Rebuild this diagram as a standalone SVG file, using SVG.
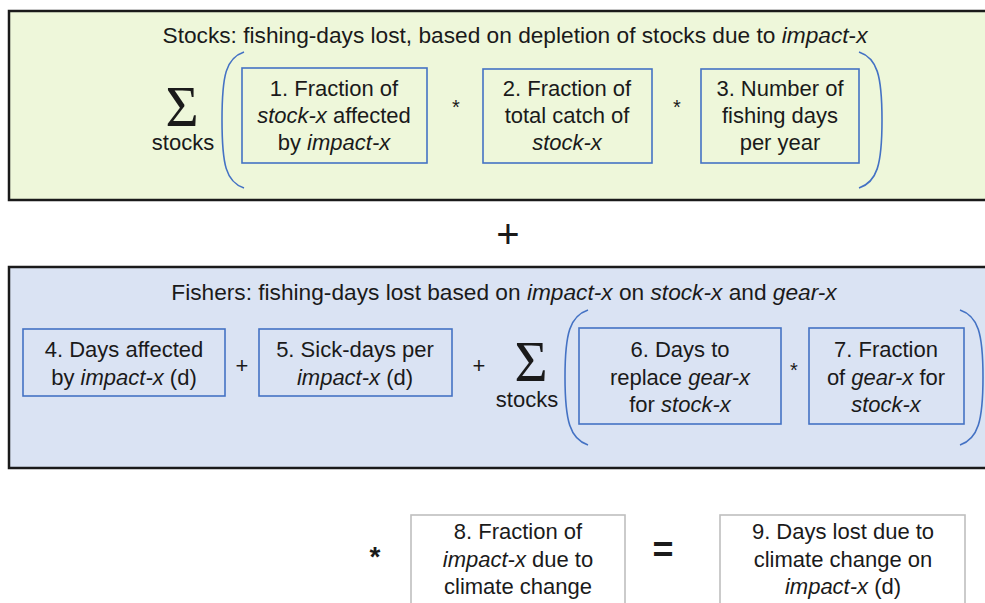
<svg xmlns="http://www.w3.org/2000/svg" width="985" height="603" viewBox="0 0 985 603">
<style>
text{font-family:"Liberation Sans",Arial,sans-serif;font-size:22px;fill:#1a1a1a;text-anchor:middle}
.ttl{font-size:22.7px}
.i{font-style:italic}
.frame{stroke:#1a1a1a;stroke-width:2.5}
.node{stroke:#4472c4;stroke-width:1.6}
.gnode{fill:#fff;stroke:#bfbfbf;stroke-width:1.6}
.br{fill:none;stroke:#4472c4;stroke-width:1.6}
.sig{font-family:"Liberation Serif","Times New Roman",serif;font-size:57px}
.sm{font-size:20px}
</style>
<rect width="985" height="603" fill="#fff"/>
<g id="stocks-panel">
<rect class="frame" x="9" y="11" width="990" height="189" fill="#eef7da"/>
<text class="ttl" x="515" y="43">Stocks: fishing-days lost, based on depletion of stocks due to <tspan class="i">impact</tspan>-<tspan class="i">x</tspan></text>
<text class="sig" x="182" y="126">Σ</text>
<text x="183" y="150">stocks</text>
<text class="sm" x="456" y="114">*</text>
<text class="sm" x="677" y="114">*</text>
</g>
<g id="fishers-panel">
<rect class="frame" x="9" y="267" width="990" height="201" fill="#dae3f3"/>
<text class="ttl" x="504" y="300">Fishers: fishing-days lost based on <tspan class="i">impact-x</tspan> on <tspan class="i">stock-x</tspan> and <tspan class="i">gear-x</tspan></text>
<text x="242" y="373">+</text>
<text x="479" y="373">+</text>
<text class="sig" x="531" y="381">Σ</text>
<text x="527" y="407">stocks</text>
<text class="sm" x="794" y="377">*</text>
</g>
<g id="n1">
<rect class="node" x="242" y="68" width="185" height="95" fill="#eef7da"/>
<text x="334" y="96">1. Fraction of</text>
<text x="334" y="123"><tspan class="i">stock-x</tspan> affected</text>
<text x="334" y="150">by <tspan class="i">impact-x</tspan></text>
</g>
<g id="n2">
<rect class="node" x="483" y="69" width="169" height="94" fill="#eef7da"/>
<text x="567" y="96">2. Fraction of</text>
<text x="567" y="123">total catch of</text>
<text x="567" y="150" class="i">stock-x</text>
</g>
<g id="n3">
<rect class="node" x="701" y="69" width="158" height="94" fill="#eef7da"/>
<text x="780" y="96">3. Number of</text>
<text x="780" y="123">fishing days</text>
<text x="780" y="150">per year</text>
</g>
<g id="plus">
<text x="508" y="248" style="font-size:40px">+</text>
</g>
<g id="n4">
<rect class="node" x="23" y="329" width="202" height="67" fill="#dae3f3"/>
<text x="124" y="357">4. Days affected</text>
<text x="124" y="385">by <tspan class="i">impact-x</tspan> (d)</text>
</g>
<g id="n5">
<rect class="node" x="259" y="329" width="193" height="67" fill="#dae3f3"/>
<text x="355" y="357">5. Sick-days per</text>
<text x="355" y="385"><tspan class="i">impact-x</tspan> (d)</text>
</g>
<g id="n6">
<rect class="node" x="579" y="328" width="202" height="96" fill="#dae3f3"/>
<text x="680" y="357">6. Days to</text>
<text x="680" y="385">replace <tspan class="i">gear-x</tspan></text>
<text x="680" y="412">for <tspan class="i">stock-x</tspan></text>
</g>
<g id="n7">
<rect class="node" x="809" y="328" width="155" height="96" fill="#dae3f3"/>
<text x="886" y="357">7. Fraction</text>
<text x="886" y="385">of <tspan class="i">gear-x</tspan> for</text>
<text x="886" y="412" class="i">stock-x</text>
</g>
<g id="n8">
<rect class="gnode" x="411" y="515" width="214" height="100"/>
<text x="518" y="539">8. Fraction of</text>
<text x="518" y="567"><tspan class="i">impact-x</tspan> due to</text>
<text x="518" y="594">climate change</text>
</g>
<g id="n9">
<rect class="gnode" x="720" y="515" width="245" height="100"/>
<text x="843" y="539">9. Days lost due to</text>
<text x="843" y="567">climate change on</text>
<text x="843" y="594"><tspan class="i">impact-x</tspan> (d)</text>
</g>
<g id="ops">
<text x="375" y="566" style="font-size:28px;font-weight:bold">*</text>
<text x="663" y="562" style="font-size:36px;font-weight:bold">=</text>
</g>
<g id="connectors">
<path class="br" d="M244,52 C226,58 222,75 222,120 C222,165 226,182 244,188"/>
<path class="br" d="M859,52 C877,58 882,75 882,120 C882,165 877,182 859,188"/>
<path class="br" d="M588,310 C570,316 565,333 565,377 C565,421 570,439 588,445"/>
<path class="br" d="M960,310 C978,316 983,333 983,377 C983,421 978,439 960,445"/>
</g>
</svg>
